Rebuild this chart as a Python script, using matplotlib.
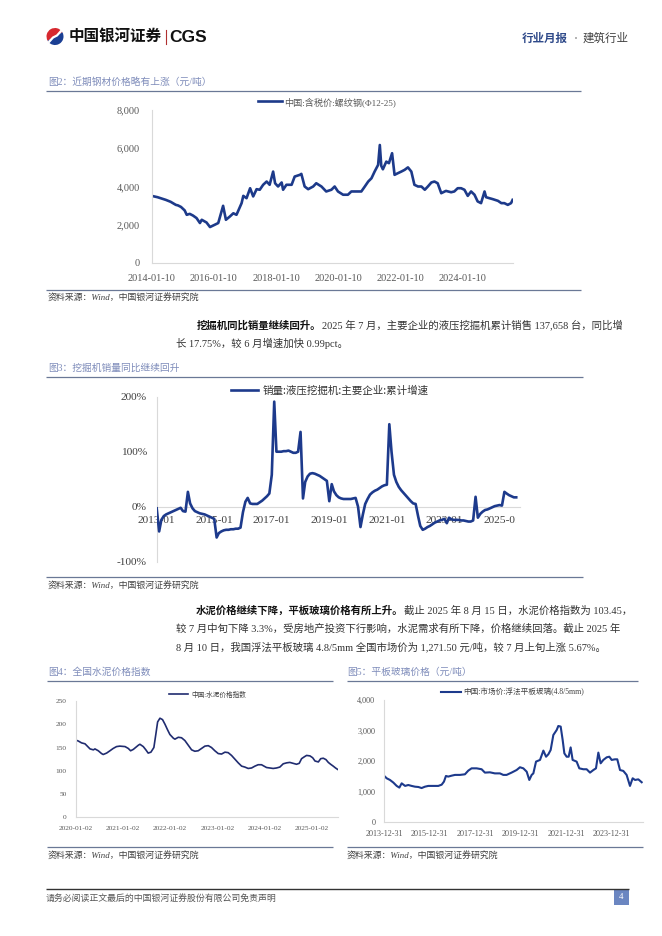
import matplotlib
matplotlib.use('Agg')
import matplotlib.pyplot as plt
import matplotlib.patches as mpatches
from matplotlib.transforms import Bbox
from matplotlib.ticker import StrMethodFormatter
import pandas as pd

plt.rcParams['font.family'] = ['Liberation Serif', 'Noto Sans CJK SC', 'DejaVu Sans']
plt.rcParams['axes.unicode_minus'] = False

SERIF_CJK = ['Liberation Serif', 'Noto Sans CJK SC', 'DejaVu Sans']
SANS_CJK = ['Noto Sans CJK SC', 'DejaVu Sans']

# ---------------- data ----------------
steel_label = '中国:含税价:螺纹钢(Φ12-25)'
steel_dates = ['2014-01-10', '2014-03-20', '2014-06-25', '2014-08-20', '2014-10-20', '2014-11-15',
               '2014-12-20', '2015-02-01', '2015-02-25', '2015-04-01', '2015-05-10', '2015-06-20',
               '2015-07-30', '2015-08-20', '2015-10-15', '2015-11-25', '2016-01-20', '2016-03-01',
               '2016-03-27', '2016-04-27', '2016-05-30', '2016-07-15', '2016-08-25', '2016-10-01',
               '2016-11-30', '2016-12-20', '2017-01-27', '2017-03-10', '2017-04-15', '2017-05-25',
               '2017-07-01', '2017-08-10', '2017-09-20', '2017-10-25', '2017-12-05', '2017-12-28',
               '2018-02-01', '2018-03-15', '2018-04-01', '2018-05-10', '2018-07-10', '2018-08-15',
               '2018-10-15', '2018-11-01', '2018-12-10', '2019-01-20', '2019-03-20', '2019-04-25',
               '2019-06-25', '2019-08-20', '2019-10-20', '2019-11-27', '2020-01-05', '2020-03-05',
               '2020-05-01', '2020-06-10', '2020-08-10', '2020-10-05', '2020-11-15', '2020-12-25',
               '2021-02-01', '2021-03-10', '2021-04-20', '2021-05-10', '2021-05-27', '2021-06-15',
               '2021-07-25', '2021-08-25', '2021-10-01', '2021-10-30', '2021-12-10', '2022-01-17',
               '2022-02-25', '2022-04-05', '2022-05-15', '2022-06-20', '2022-08-01', '2022-09-10',
               '2022-10-20', '2022-11-25', '2023-01-05', '2023-02-10', '2023-03-20', '2023-05-01',
               '2023-06-25', '2023-08-25', '2023-10-01', '2023-11-10', '2023-12-20', '2024-01-28',
               '2024-03-07', '2024-04-15', '2024-05-25', '2024-07-01', '2024-08-10', '2024-09-20',
               '2024-10-08', '2024-11-15', '2024-12-25', '2025-02-25', '2025-04-05', '2025-05-10',
               '2025-06-20', '2025-07-28', '2025-08-15']
steel_price = [3510, 3440, 3300, 3200, 3040, 3010,
               2930, 2750, 2520, 2570, 2480, 2350,
               2090, 2260, 2120, 1880, 2000, 2090,
               2500, 2990, 2260, 2430, 2600, 2520,
               3130, 3510, 3390, 3910, 3480, 3860,
               3830, 4090, 4260, 4090, 4780, 4170,
               4000, 4210, 3830, 4090, 4090, 4520,
               4610, 4660, 4000, 3860, 4000, 4170,
               4000, 3740, 3830, 4000, 3740, 3570,
               3570, 3740, 3740, 3740, 4000, 4260,
               4430, 4780, 5130, 6170, 5080, 4900,
               5300, 5220, 5740, 4610, 4700, 4780,
               4870, 5000, 4780, 4090, 4000, 4000,
               3830, 4000, 4210, 4260, 4170, 3650,
               3770, 3700, 3740, 3910, 3910, 3830,
               3510, 3740, 3570, 3220, 3130, 3740,
               3440, 3390, 3340, 3250, 3130, 3130,
               3040, 3130, 3300]
steel_xticks = ['2014-01-10', '2016-01-10', '2018-01-10', '2020-01-10', '2022-01-10', '2024-01-10']
steel_yticks = [0, 2000, 4000, 6000, 8000]

exc_label = '销量:液压挖掘机:主要企业:累计增速'
exc_start = '2013-01-01'
exc_yoy = [-3, -45, -24, -17, -14, -12, -10, -8, -6, -4, -2, -8,          # 2013
           -9, 27, 6, -3, -8, -10, -12, -13, -14, -16, -18, -20,          # 2014
           -22, -56, -48, -45, -43, -42, -42, -41, -41, -40, -40, -38,    # 2015
           -10, 9, 16, 6, 5, 5, 5, 8, 11, 15, 19, 24,                     # 2016
           58, 191, 100, 100, 100, 101, 101, 102, 100, 98, 98, 100,       # 2017
           136, 15, 45, 55, 60, 61, 60, 58, 56, 53, 50, 47,               # 2018
           10, 41, 28, 21, 17, 15, 14, 14, 14, 14, 15, 16,                # 2019
           0, -37, -15, 5, 14, 22, 26, 29, 31, 34, 37, 39,                # 2020
           40, 150, 100, 58, 45, 36, 30, 25, 20, 15, 10, 6,               # 2021
           5, -17, -35, -42, -40, -37, -35, -32, -29, -27, -25, -24,      # 2022
           -22, -30, -20, -23, -24, -24, -24, -25, -25, -26, -27, -27,    # 2023
           -25, 18, -20, -13, -9, -6, -5, -3, -1, 1, 2, 3,                # 2024
           2, 27, 24, 21, 19, 17, 17]                                     # 2025 Jan-Jul
exc_xticks = ['2013-01', '2015-01', '2017-01', '2019-01', '2021-01', '2023-01', '2025-01']
exc_yticks = [-100, 0, 100, 200]

cement_label = '中国:水泥价格指数'
cement_dates = ['2020-01-02', '2020-01-22', '2020-02-16', '2020-03-14', '2020-04-22', '2020-05-18',
                '2020-05-30', '2020-06-25', '2020-07-20', '2020-08-02', '2020-08-28', '2020-09-23',
                '2020-10-18', '2020-11-13', '2020-12-08', '2021-01-18', '2021-02-12', '2021-03-02',
                '2021-03-23', '2021-05-01', '2021-05-13', '2021-06-08', '2021-06-28', '2021-07-16',
                '2021-08-06', '2021-08-29', '2021-09-14', '2021-09-27', '2021-10-15', '2021-11-04',
                '2021-11-23', '2021-12-13', '2021-12-31', '2022-01-27', '2022-02-08', '2022-03-06',
                '2022-03-31', '2022-04-26', '2022-05-22', '2022-06-17', '2022-07-12', '2022-08-07',
                '2022-09-02', '2022-09-28', '2022-10-24', '2022-11-18', '2022-12-14', '2023-01-09',
                '2023-02-04', '2023-03-02', '2023-03-27', '2023-04-22', '2023-05-18', '2023-06-13',
                '2023-07-09', '2023-08-03', '2023-08-29', '2023-09-24', '2023-10-20', '2023-11-14',
                '2023-12-10', '2023-12-23', '2024-01-18', '2024-02-13', '2024-03-09', '2024-04-04',
                '2024-04-30', '2024-05-26', '2024-06-21', '2024-07-16', '2024-08-11', '2024-09-06',
                '2024-09-27', '2024-10-15', '2024-11-05', '2024-11-23', '2024-12-19', '2025-01-09',
                '2025-01-27', '2025-02-22', '2025-03-12', '2025-04-01', '2025-04-22', '2025-05-10',
                '2025-05-28', '2025-06-17', '2025-07-05', '2025-07-21']
cement_index = [166, 164, 160, 158, 147, 145,
                147, 143, 137, 135, 138, 143,
                148, 152, 153, 152, 148, 143,
                146, 155, 157, 152, 145, 138,
                140, 150, 180, 205, 213, 210,
                200, 188, 178, 170, 168, 172,
                171, 165, 155, 145, 142, 143,
                148, 153, 154, 150, 143, 137,
                136, 140, 139, 133, 125, 117,
                110, 108, 105, 106, 110, 113,
                113, 111, 107, 106, 105, 106,
                108, 115, 117, 118, 116, 114,
                116, 126, 130, 133, 132, 128,
                121, 119, 126, 127, 124, 118,
                114, 110, 106, 103]
cement_xticks = ['2020-01-02', '2021-01-02', '2022-01-02', '2023-01-02', '2024-01-02', '2025-01-02']
cement_yticks = [0, 50, 100, 150, 200, 250]

glass_label = '中国:市场价:浮法平板玻璃(4.8/5mm)'
glass_dates = ['2013-12-31', '2014-02-07', '2014-04-01', '2014-05-25', '2014-07-18', '2014-08-30',
               '2014-10-06', '2014-11-30', '2015-01-20', '2015-03-15', '2015-05-08', '2015-07-01',
               '2015-08-22', '2015-10-15', '2015-12-08', '2016-02-26', '2016-05-16', '2016-07-09',
               '2016-08-15', '2016-09-16', '2016-10-23', '2016-12-16', '2017-02-08', '2017-04-29',
               '2017-07-18', '2017-09-10', '2017-11-02', '2018-01-22', '2018-04-12', '2018-06-04',
               '2018-08-23', '2018-11-11', '2019-01-31', '2019-03-26', '2019-05-18', '2019-08-06',
               '2019-10-26', '2019-12-19', '2020-02-11', '2020-04-05', '2020-05-17', '2020-06-24',
               '2020-07-21', '2020-09-02', '2020-11-05', '2020-12-29', '2021-02-10', '2021-03-19',
               '2021-04-25', '2021-06-07', '2021-07-31', '2021-08-26', '2021-10-03', '2021-11-04',
               '2021-12-01', '2022-01-07', '2022-02-08', '2022-03-12', '2022-04-13', '2022-06-16',
               '2022-07-29', '2022-10-02', '2022-11-24', '2023-01-17', '2023-03-12', '2023-04-23',
               '2023-05-31', '2023-07-07', '2023-08-19', '2023-10-12', '2023-11-23', '2023-12-31',
               '2024-02-22', '2024-03-30', '2024-05-13', '2024-07-05', '2024-08-27', '2024-10-20',
               '2024-12-02', '2025-01-09', '2025-03-03', '2025-04-26']
glass_price = [1515, 1440, 1385, 1300, 1190, 1135,
               1275, 1190, 1220, 1190, 1165, 1155,
               1120, 1165, 1190, 1190, 1190, 1230,
               1330, 1515, 1495, 1525, 1550, 1550,
               1570, 1690, 1765, 1765, 1735, 1625,
               1635, 1600, 1600, 1550, 1550, 1625,
               1710, 1800, 1765, 1655, 1385, 1550,
               1600, 1985, 2040, 2345, 2145, 2225,
               2365, 2855, 3020, 3150, 3130, 2690,
               2255, 2145, 2145, 2450, 2040, 1985,
               1765, 1735, 1735, 1625, 1710, 1765,
               2280, 1930, 2040, 2125, 2145, 2040,
               2060, 2060, 1710, 1680, 1550, 1190,
               1440, 1385, 1405, 1310]
glass_xticks = ['2013-12-31', '2015-12-31', '2017-12-31', '2019-12-31', '2021-12-31', '2023-12-31']
glass_yticks = [0, 1000, 2000, 3000, 4000]

# ---------------- page ----------------
W, H = 662, 936
fig = plt.figure(figsize=(W / 100, H / 100), dpi=100)
page = fig.add_axes([0, 0, 1, 1])
page.set_xlim(0, W)
page.set_ylim(H, 0)
page.axis('off')


def rect(l, t, r, b):
    return [l / W, 1 - b / H, (r - l) / W, (b - t) / H]


CAP_C = '#7e8cba'
RULE_C = '#6a7896'


def hline(x0, x1, y, c=RULE_C, lw=0.9):
    page.plot([x0, x1], [y, y], color=c, lw=lw, solid_capstyle='butt')


def caption(x, y, s):
    page.text(x, y, s, fontsize=7, color=CAP_C, va='center', ha='left', family=SERIF_CJK)


def source(x, y):
    page.text(x, y, '资料来源：Wind，中国银河证券研究院', fontsize=6.4, color='#404040',
              va='center', ha='left', family=SERIF_CJK, style='italic')


# header logo
page.add_patch(mpatches.Wedge((55, 36.5), 8.5, 150, 330, color='#d7282f', lw=0))
page.add_patch(mpatches.Wedge((55, 36.5), 8.5, 330, 510, color='#1b3f94', lw=0))
page.plot([49, 53, 57, 61], [42, 37.5, 35.5, 31], color='white', lw=1.6)
page.text(69, 37, '中国银河证券', fontsize=11.2, fontweight='bold', color='#111111',
          va='center', ha='left', family=SANS_CJK)
page.plot([165.5, 165.5], [30, 44], color='#b03030', lw=0.8)
page.text(169, 37, 'CGS', fontsize=12.5, fontweight='bold', color='#111111',
          va='center', ha='left', family=['Liberation Sans', 'DejaVu Sans'])
page.text(522, 38, '行业月报', fontsize=8.3, fontweight='bold', color='#2f4a8a',
          va='center', ha='left', family=SANS_CJK)
page.add_patch(mpatches.Circle((576, 38), 0.9, color='#8a8a8a', lw=0))
page.text(583, 38, '建筑行业', fontsize=8.3, color='#404040', va='center', ha='left', family=SANS_CJK)

# captions / rules / sources
caption(48, 82, '图2：近期钢材价格略有上涨（元/吨）')
hline(46, 581, 90.5)
hline(46, 581, 289.5)
source(48, 298)

caption(48, 368, '图3：挖掘机销量同比继续回升')
hline(46, 583, 377)
hline(46, 583, 577)
source(48, 586)

caption(48, 672, '图4：全国水泥价格指数')
caption(347, 672, '图5：平板玻璃价格（元/吨）')
hline(47, 333, 681)
hline(347, 638, 681)
hline(47, 333, 847)
hline(347, 643, 847)
source(48, 856)
source(347, 856)

# paragraphs
renderer = fig.canvas.get_renderer()
PARA_FS = 7.5


def lead_line(x, y, bold, rest):
    t = page.text(x, y, bold, fontsize=PARA_FS, fontweight='bold', color='#111111',
                  va='center', ha='left', family=SERIF_CJK)
    bb = t.get_window_extent(renderer)
    page.text(bb.x1, y, rest, fontsize=PARA_FS, color='#333333', va='center', ha='left',
              family=SERIF_CJK)


def plain_line(x, y, s):
    page.text(x, y, s, fontsize=PARA_FS, color='#333333', va='center', ha='left', family=SERIF_CJK)


lead_line(197, 325, '挖掘机同比销量继续回升。',
          '2025 年 7 月，主要企业的液压挖掘机累计销售 137,658 台，同比增')
plain_line(176, 343, '长 17.75%，较 6 月增速加快 0.99pct。')

lead_line(196, 611, '水泥价格继续下降，平板玻璃价格有所上升。',
          '截止 2025 年 8 月 15 日，水泥价格指数为 103.45，')
plain_line(176, 629, '较 7 月中旬下降 3.3%，受房地产投资下行影响，水泥需求有所下降，价格继续回落。截止 2025 年')
plain_line(176, 647, '8 月 10 日，我国浮法平板玻璃 4.8/5mm 全国市场价为 1,271.50 元/吨，较 7 月上旬上涨 5.67%。')

# footer
hline(46, 629, 889, c='#333333', lw=1.0)
page.text(46, 898, '请务必阅读正文最后的中国银河证券股份有限公司免责声明', fontsize=6.4,
          color='#555555', va='center', ha='left', family=SERIF_CJK)
page.add_patch(mpatches.Rectangle((614, 889), 15, 16, color='#6b86c1', lw=0))
page.text(621.5, 897, '4', fontsize=6.5, color='white', va='center', ha='center')

# ---------------- charts ----------------
AX_C = '#d9d9d9'


def style(ax, fs, lc):
    for s in ['top', 'right']:
        ax.spines[s].set_visible(False)
    ax.spines['left'].set_color(AX_C)
    ax.spines['bottom'].set_color(AX_C)
    ax.spines['left'].set_linewidth(0.8)
    ax.spines['bottom'].set_linewidth(0.8)
    ax.tick_params(length=0, labelsize=fs, labelcolor=lc)
    ax.set_facecolor('none')


# Chart 1: steel
ax1 = fig.add_axes(rect(151.7, 110, 513, 263))
ax1.plot(pd.to_datetime(steel_dates), steel_price, color='#1d3a8a', lw=1.9, label=steel_label)
ax1.set_ylim(0, 8000)
ax1.set_xlim(pd.Timestamp('2014-01-10'), pd.Timestamp('2025-08-20'))
ax1.set_yticks(steel_yticks)
ax1.yaxis.set_major_formatter(StrMethodFormatter('{x:,.0f}'))
ax1.set_xticks(pd.to_datetime(steel_xticks))
ax1.set_xticklabels(steel_xticks)
style(ax1, 7.4, '#595959')
ax1.tick_params(axis='y', pad=8.5)
ax1.tick_params(axis='x', pad=8)
ax1.legend(loc='center', bbox_to_anchor=(0.485, 1.054), frameon=False,
           prop={'family': SERIF_CJK, 'size': 6.6}, handlelength=2.6, handletextpad=0.3,
           labelcolor='#595959')

# Chart 2: excavator yoy
ax2 = fig.add_axes(rect(156.7, 396.7, 520, 561.7))
exc_months = pd.date_range(exc_start, periods=len(exc_yoy), freq='MS')
ax2.plot(exc_months, exc_yoy, color='#1d3a8c', lw=1.9, label=exc_label, zorder=3)
ax2.set_ylim(-100, 200)
ax2.set_xlim(pd.Timestamp('2013-01-01'), pd.Timestamp('2025-08-18'))
ax2.set_yticks(exc_yticks)
ax2.set_yticklabels([f'{v}%' for v in exc_yticks])
ax2.set_xticks(pd.to_datetime(exc_xticks))
ax2.set_xticklabels(exc_xticks)
style(ax2, 8.2, '#404040')
ax2.spines['bottom'].set_position(('data', 0))
ax2.tick_params(axis='y', pad=7)
ax2.tick_params(axis='x', pad=7)
clip = Bbox.from_extents(0, 0, 516, H)
for lbl in ax2.get_xticklabels():
    lbl.set_clip_on(True)
    lbl.set_clip_box(clip)
ax2.legend(loc='center', bbox_to_anchor=(0.476, 1.04), frameon=False,
           prop={'family': SANS_CJK, 'size': 7.6}, handlelength=2.6, handletextpad=0.35,
           labelcolor='#333333')

# Chart 4: cement
ax4 = fig.add_axes(rect(75.7, 701, 338, 817.3))
ax4.plot(pd.to_datetime(cement_dates), cement_index, color='#202c70', lw=1.2, label=cement_label)
ax4.set_ylim(0, 250)
ax4.set_xlim(pd.Timestamp('2020-01-02'), pd.Timestamp('2025-07-24'))
ax4.set_yticks(cement_yticks)
ax4.set_xticks(pd.to_datetime(cement_xticks))
ax4.set_xticklabels(cement_xticks)
style(ax4, 5.3, '#595959')
ax4.tick_params(axis='y', pad=6.5)
ax4.tick_params(axis='x', pad=6)
ax4.legend(loc='center', bbox_to_anchor=(0.504, 1.06), frameon=False,
           prop={'family': SERIF_CJK, 'size': 4.8}, handlelength=2.8, handletextpad=0.5,
           labelcolor='#404040')

# Chart 5: glass
ax5 = fig.add_axes(rect(384.3, 700, 643.3, 822.3))
ax5.plot(pd.to_datetime(glass_dates), glass_price, color='#1d3a8c', lw=1.5, label=glass_label)
ax5.set_ylim(0, 4000)
ax5.set_xlim(pd.Timestamp('2013-12-31'), pd.Timestamp('2025-05-22'))
ax5.set_yticks(glass_yticks)
ax5.yaxis.set_major_formatter(StrMethodFormatter('{x:,.0f}'))
ax5.set_xticks(pd.to_datetime(glass_xticks))
ax5.set_xticklabels(glass_xticks)
style(ax5, 5.9, '#595959')
ax5.tick_params(axis='y', pad=6.5)
ax5.tick_params(axis='x', pad=5.5)
ax5.legend(loc='center', bbox_to_anchor=(0.495, 1.065), frameon=False,
           prop={'family': SERIF_CJK, 'size': 5.5}, handlelength=2.6, handletextpad=0.2,
           labelcolor='#404040')

fig.savefig('out.png', dpi=100)
